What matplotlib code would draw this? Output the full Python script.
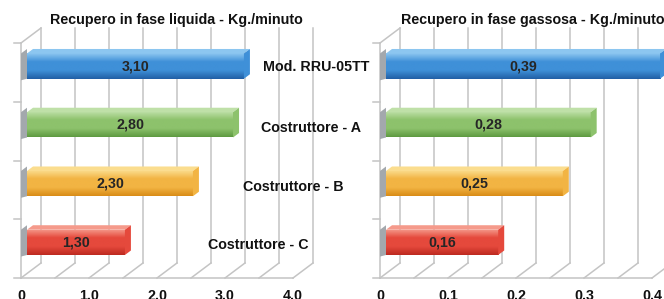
import numpy as np
import matplotlib
matplotlib.use("Agg")
import matplotlib.pyplot as plt
from matplotlib.colors import LinearSegmentedColormap
from matplotlib.patches import Polygon

plt.rcParams['font.family'] = ['Liberation Sans', 'DejaVu Sans']
plt.rcParams['font.weight'] = 'bold'

# categories, top to bottom
categorie = ["Mod. RRU-05TT", "Costruttore - A", "Costruttore - B", "Costruttore - C"]

# bar lengths as drawn in the picture, and the printed values
liquida_len = [3.19, 3.03, 2.44, 1.44]
liquida_lbl = ["3,10", "2,80", "2,30", "1,30"]
gassosa_len = [0.403, 0.301, 0.260, 0.165]
gassosa_lbl = ["0,39", "0,28", "0,25", "0,16"]

liquida_ticks = [0, 1, 2, 3, 4]
liquida_tlbl = ["0", "1.0", "2.0", "3.0", "4.0"]
gassosa_ticks = [0, 0.1, 0.2, 0.3, 0.4]
gassosa_tlbl = ["0", "0.1", "0.2", "0.3", "0.4"]

# (light top, base, dark bottom) per bar
colori = [("#8cc6f0", "#3f90d8", "#215fa5"),
          ("#bfe0a8", "#8dc26c", "#5e9a41"),
          ("#fbdd8e", "#f2b443", "#d98c17"),
          ("#f59a8b", "#e5493c", "#bd2a20")]

W, H = 664, 299
PX_Y = 58.75          # pixels per category
fig = plt.figure(figsize=(W / 100, H / 100), dpi=100)


def panel(x0_px, unit_px, xmax, lengths, labels, ticks, tlbl):
    ox = 20.0 / unit_px
    oy = 15.0 / PX_Y
    xlim = (0, xmax + ox * 1.02)
    ylim = (0, 4.3)
    ax = fig.add_axes([x0_px / W, 21 / H, (xlim[1] * unit_px) / W, (ylim[1] * PX_Y) / H])
    ax.set_xlim(xlim)
    ax.set_ylim(ylim)
    for s in ax.spines.values():
        s.set_visible(False)
    ax.set_yticks([])
    ax.set_xticks(ticks)
    ax.set_xticklabels(tlbl, fontsize=10.3, fontweight='bold', color='#111111')
    ax.tick_params(axis='x', length=0, pad=8)

    gc = "#c4c4c4"
    half = ticks[1] / 2
    for v in np.arange(0, xmax + half / 2, half):
        ax.plot([v + ox, v + ox], [oy, 4 + oy], color=gc, lw=1.1, clip_on=False, zorder=1)
        ax.plot([v, v + ox], [0, oy], color=gc, lw=1.1, clip_on=False, zorder=1)
    ax.plot([0, xmax], [0, 0], color=gc, lw=1.1, clip_on=False, zorder=1)
    ax.plot([0, 0], [0, 4], color=gc, lw=1.1, clip_on=False, zorder=1)
    ax.plot([0, ox], [4, 4 + oy], color=gc, lw=1.1, clip_on=False, zorder=1)
    for k in range(5):
        ax.plot([-7.0 / unit_px, 0], [k, k], color=gc, lw=1.1, clip_on=False, zorder=1)

    z0, z1 = 0.3, 0.6
    dz = z1 - z0
    h = 0.43
    n = len(lengths)
    ypos = [n - 1 - i + 0.5 + z0 * oy + 0.03 for i in range(n)]
    bars = ax.barh(ypos, lengths, left=z0 * ox, height=h, color=[c[1] for c in colori],
                   edgecolor='none', zorder=3)
    grad = np.linspace(0, 1, 64).reshape(-1, 1)
    for i, b in enumerate(bars):
        light, base, dark = colori[i]
        bx0, by0 = b.get_x(), b.get_y()
        bx1, by1 = bx0 + b.get_width(), by0 + b.get_height()
        cmap = LinearSegmentedColormap.from_list("g", [dark, base, base, light])
        im = ax.imshow(grad, extent=[bx0, bx1, by0, by1], origin='lower', aspect='auto',
                       cmap=cmap, zorder=3.5, interpolation='bilinear')
        im.set_clip_path(b)
        # top face
        ax.add_patch(Polygon([(bx0, by1), (bx1, by1), (bx1 + dz * ox, by1 + dz * oy),
                              (bx0 + dz * ox, by1 + dz * oy)], closed=True,
                             facecolor=light, edgecolor='none', zorder=3.6, clip_on=False))
        # end face
        ax.add_patch(Polygon([(bx1, by0), (bx1 + dz * ox, by0 + dz * oy),
                              (bx1 + dz * ox, by1 + dz * oy), (bx1, by1)], closed=True,
                             facecolor=base, edgecolor='none', zorder=3.6, clip_on=False))
        # shadow on the side wall
        ax.add_patch(Polygon([(0, by0 - z0 * oy + 0.05), (bx0, by0),
                              (bx0, by1 + dz * oy), (0, by1 + dz * oy - z0 * oy)], closed=True,
                             facecolor="#a3a8ad", edgecolor='none', zorder=2.5, clip_on=False))
        ax.text((bx0 + bx1) / 2, (by0 + by1) / 2, labels[i], ha='center', va='center',
                fontsize=10.3, fontweight='bold', color='#262626', zorder=5)
    ax.set_xlim(xlim)
    ax.set_ylim(ylim)
    return ax


panel(21, 68.0, 4.0, liquida_len, liquida_lbl, liquida_ticks, liquida_tlbl)
panel(380, 680.0, 0.4, gassosa_len, gassosa_lbl, gassosa_ticks, gassosa_tlbl)

titoli = ["Recupero in fase liquida - Kg./minuto", "Recupero in fase gassosa - Kg./minuto"]
titoli_x = [176, 533]
for t, x in zip(titoli, titoli_x):
    fig.text(x / W, 1 - 20 / H, t, ha='center', va='center', fontsize=10.3,
             fontweight='bold', color='#111111')

cat_pos = [(316, 67), (311, 128), (293, 187), (258, 245)]
for c, (x, y) in zip(categorie, cat_pos):
    fig.text(x / W, 1 - y / H, c, ha='center', va='center', fontsize=10.3,
             fontweight='bold', color='#111111')

fig.savefig("out.png", dpi=100)
